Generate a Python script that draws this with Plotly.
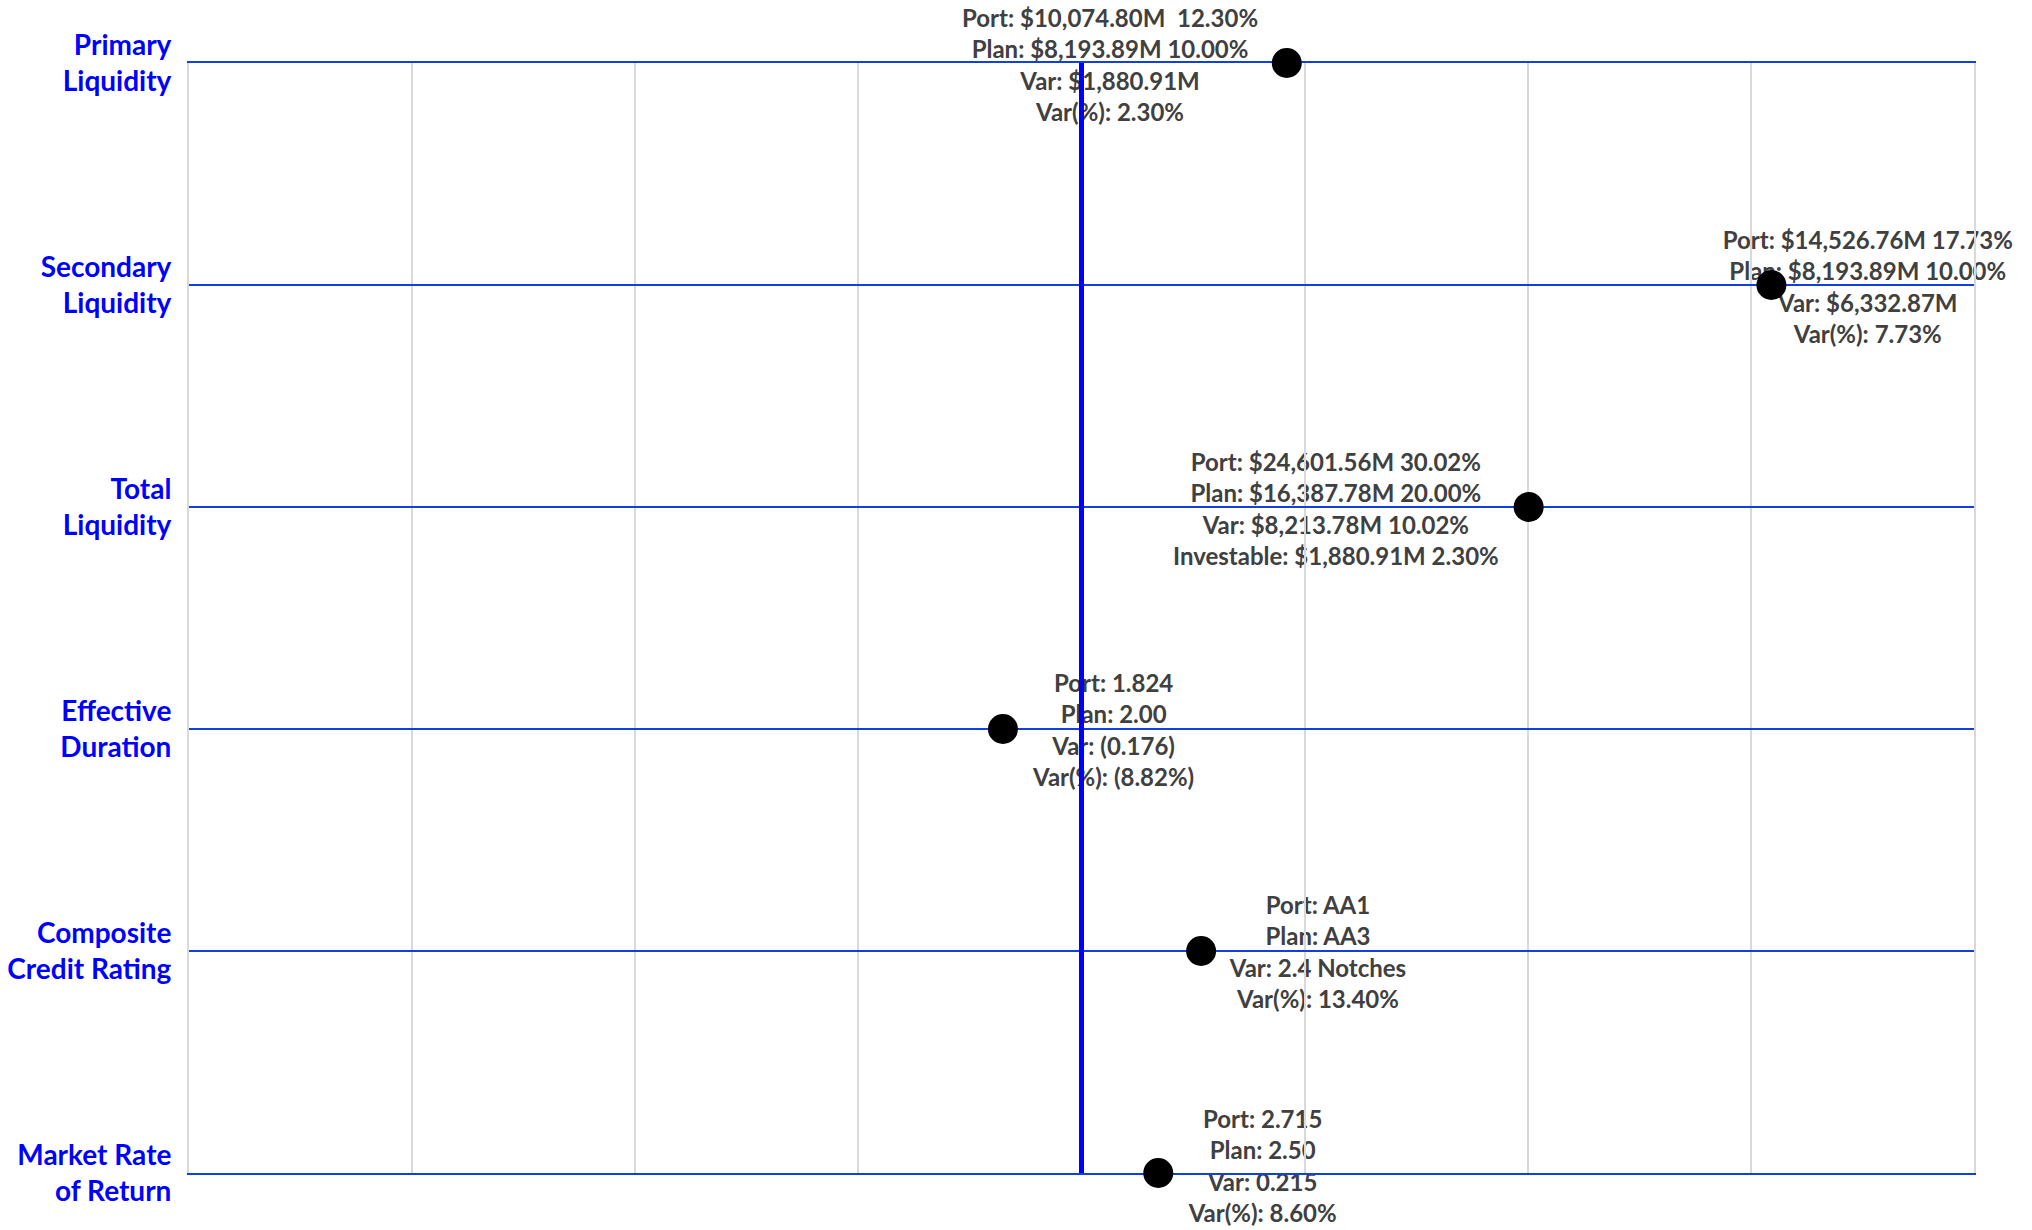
import plotly.graph_objects as go

# ---------------- data ----------------
categories = [
    "Primary<br>Liquidity",
    "Secondary<br>Liquidity",
    "Total<br>Liquidity",
    "Effective<br>Duration",
    "Composite<br>Credit Rating",
    "Market Rate<br>of Return",
]
plotted_values = [2.30, 7.73, 5.01, -0.88, 1.34, 0.86]

port_lines = [
    "Port: $10,074.80M \u00a012.30%",
    "Port: $14,526.76M 17.73%",
    "Port: $24,601.56M 30.02%",
    "Port: 1.824",
    "Port: AA1",
    "Port: 2.715",
]
plan_lines = [
    "Plan: $8,193.89M 10.00%",
    "Plan: $8,193.89M 10.00%",
    "Plan: $16,387.78M 20.00%",
    "Plan: 2.00",
    "Plan: AA3",
    "Plan: 2.50",
]
var_lines = [
    "Var: $1,880.91M",
    "Var: $6,332.87M",
    "Var: $8,213.78M 10.02%",
    "Var: (0.176)",
    "Var: 2.4 Notches",
    "Var: 0.215",
]
last_lines = [
    "Var(%): 2.30%",
    "Var(%): 7.73%",
    "Investable: $1,880.91M 2.30%",
    "Var(%): (8.82%)",
    "Var(%): 13.40%",
    "Var(%): 8.60%",
]

# label placement: horizontal offset from the dot (axis units), vertical offset (pixels, down)
label_dx = [-1.98, 1.08, -2.16, 1.24, 1.31, 1.17]
label_dy_px = [5, 5, 5, 4, 4, -4]

# ---------------- geometry (pixels) ----------------
W, H = 2032, 1230
M_T, M_B, M_L, M_R = 40, 34, 189, 58
PLOT_TOP, PLOT_BOTTOM = 63, 1173          # where the category rows start / end

area_h = H - M_T - M_B
dom_lo = (H - M_B - PLOT_BOTTOM) / area_h
dom_hi = (H - M_B - PLOT_TOP) / area_h
n = len(categories) - 1
px_per_unit = (PLOT_BOTTOM - PLOT_TOP) / n
text_top = -(PLOT_TOP - M_T) / px_per_unit
text_range = [text_top + area_h / px_per_unit, text_top]

# ---------------- figure ----------------
labels = ["<br>".join(t) for t in zip(port_lines, plan_lines, var_lines, last_lines)]
label_x = [v + d for v, d in zip(plotted_values, label_dx)]
label_y = [i + d / px_per_unit for i, d in enumerate(label_dy_px)]

fig = go.Figure()

# text layer (bottom subplot)
fig.add_trace(go.Scatter(
    x=label_x, y=label_y, mode="text", text=labels,
    textposition="middle center", xaxis="x", yaxis="y",
    textfont=dict(family="Lato", size=24, color="#404040", weight="bold"),
    cliponaxis=False, hoverinfo="skip", showlegend=False,
))

# dots (upper subplot, carries the grid and the category axis)
fig.add_trace(go.Scatter(
    x=plotted_values, y=categories, mode="markers", xaxis="x2", yaxis="y2",
    marker=dict(color="black", size=30, line=dict(width=0)),
    cliponaxis=False, hoverinfo="skip", showlegend=False,
))

fig.add_shape(
    type="line", xref="x2", yref="y2 domain", x0=0, x1=0, y0=0, y1=1,
    line=dict(color="#0000FF", width=5), layer="above",
)

fig.update_layout(
    width=W, height=H,
    margin=dict(l=M_L, r=M_R, t=M_T, b=M_B),
    paper_bgcolor="white", plot_bgcolor="rgba(0,0,0,0)",
    showlegend=False,
    xaxis=dict(domain=[0, 1], anchor="y", range=[-10, 10], visible=False,
               showgrid=False, zeroline=False),
    yaxis=dict(domain=[0, 1], anchor="x", type="linear",
               range=text_range, visible=False, showgrid=False, zeroline=False),
    xaxis2=dict(
        domain=[0, 1], anchor="y2", range=[-10, 10], tick0=0, dtick=2.5,
        showticklabels=False, ticks="",
        showgrid=True, gridcolor="#D9D9D9", gridwidth=2,
        zeroline=False,
        showline=True, mirror=True, linecolor="#1040E0", linewidth=2,
        layer="below traces", automargin=False,
    ),
    yaxis2=dict(
        domain=[dom_lo, dom_hi], anchor="x2",
        type="category", categoryorder="array", categoryarray=categories,
        range=[n, 0],
        showgrid=True, gridcolor="#1040E0", gridwidth=2,
        zeroline=False, ticks="",
        showline=True, mirror=True, linecolor="#D9D9D9", linewidth=2,
        layer="below traces", automargin=False,
        ticklabelstandoff=10,
        tickfont=dict(family="Lato", size=28, color="#0000FF", weight="bold"),
    ),
)

fig.write_html("out.html")
